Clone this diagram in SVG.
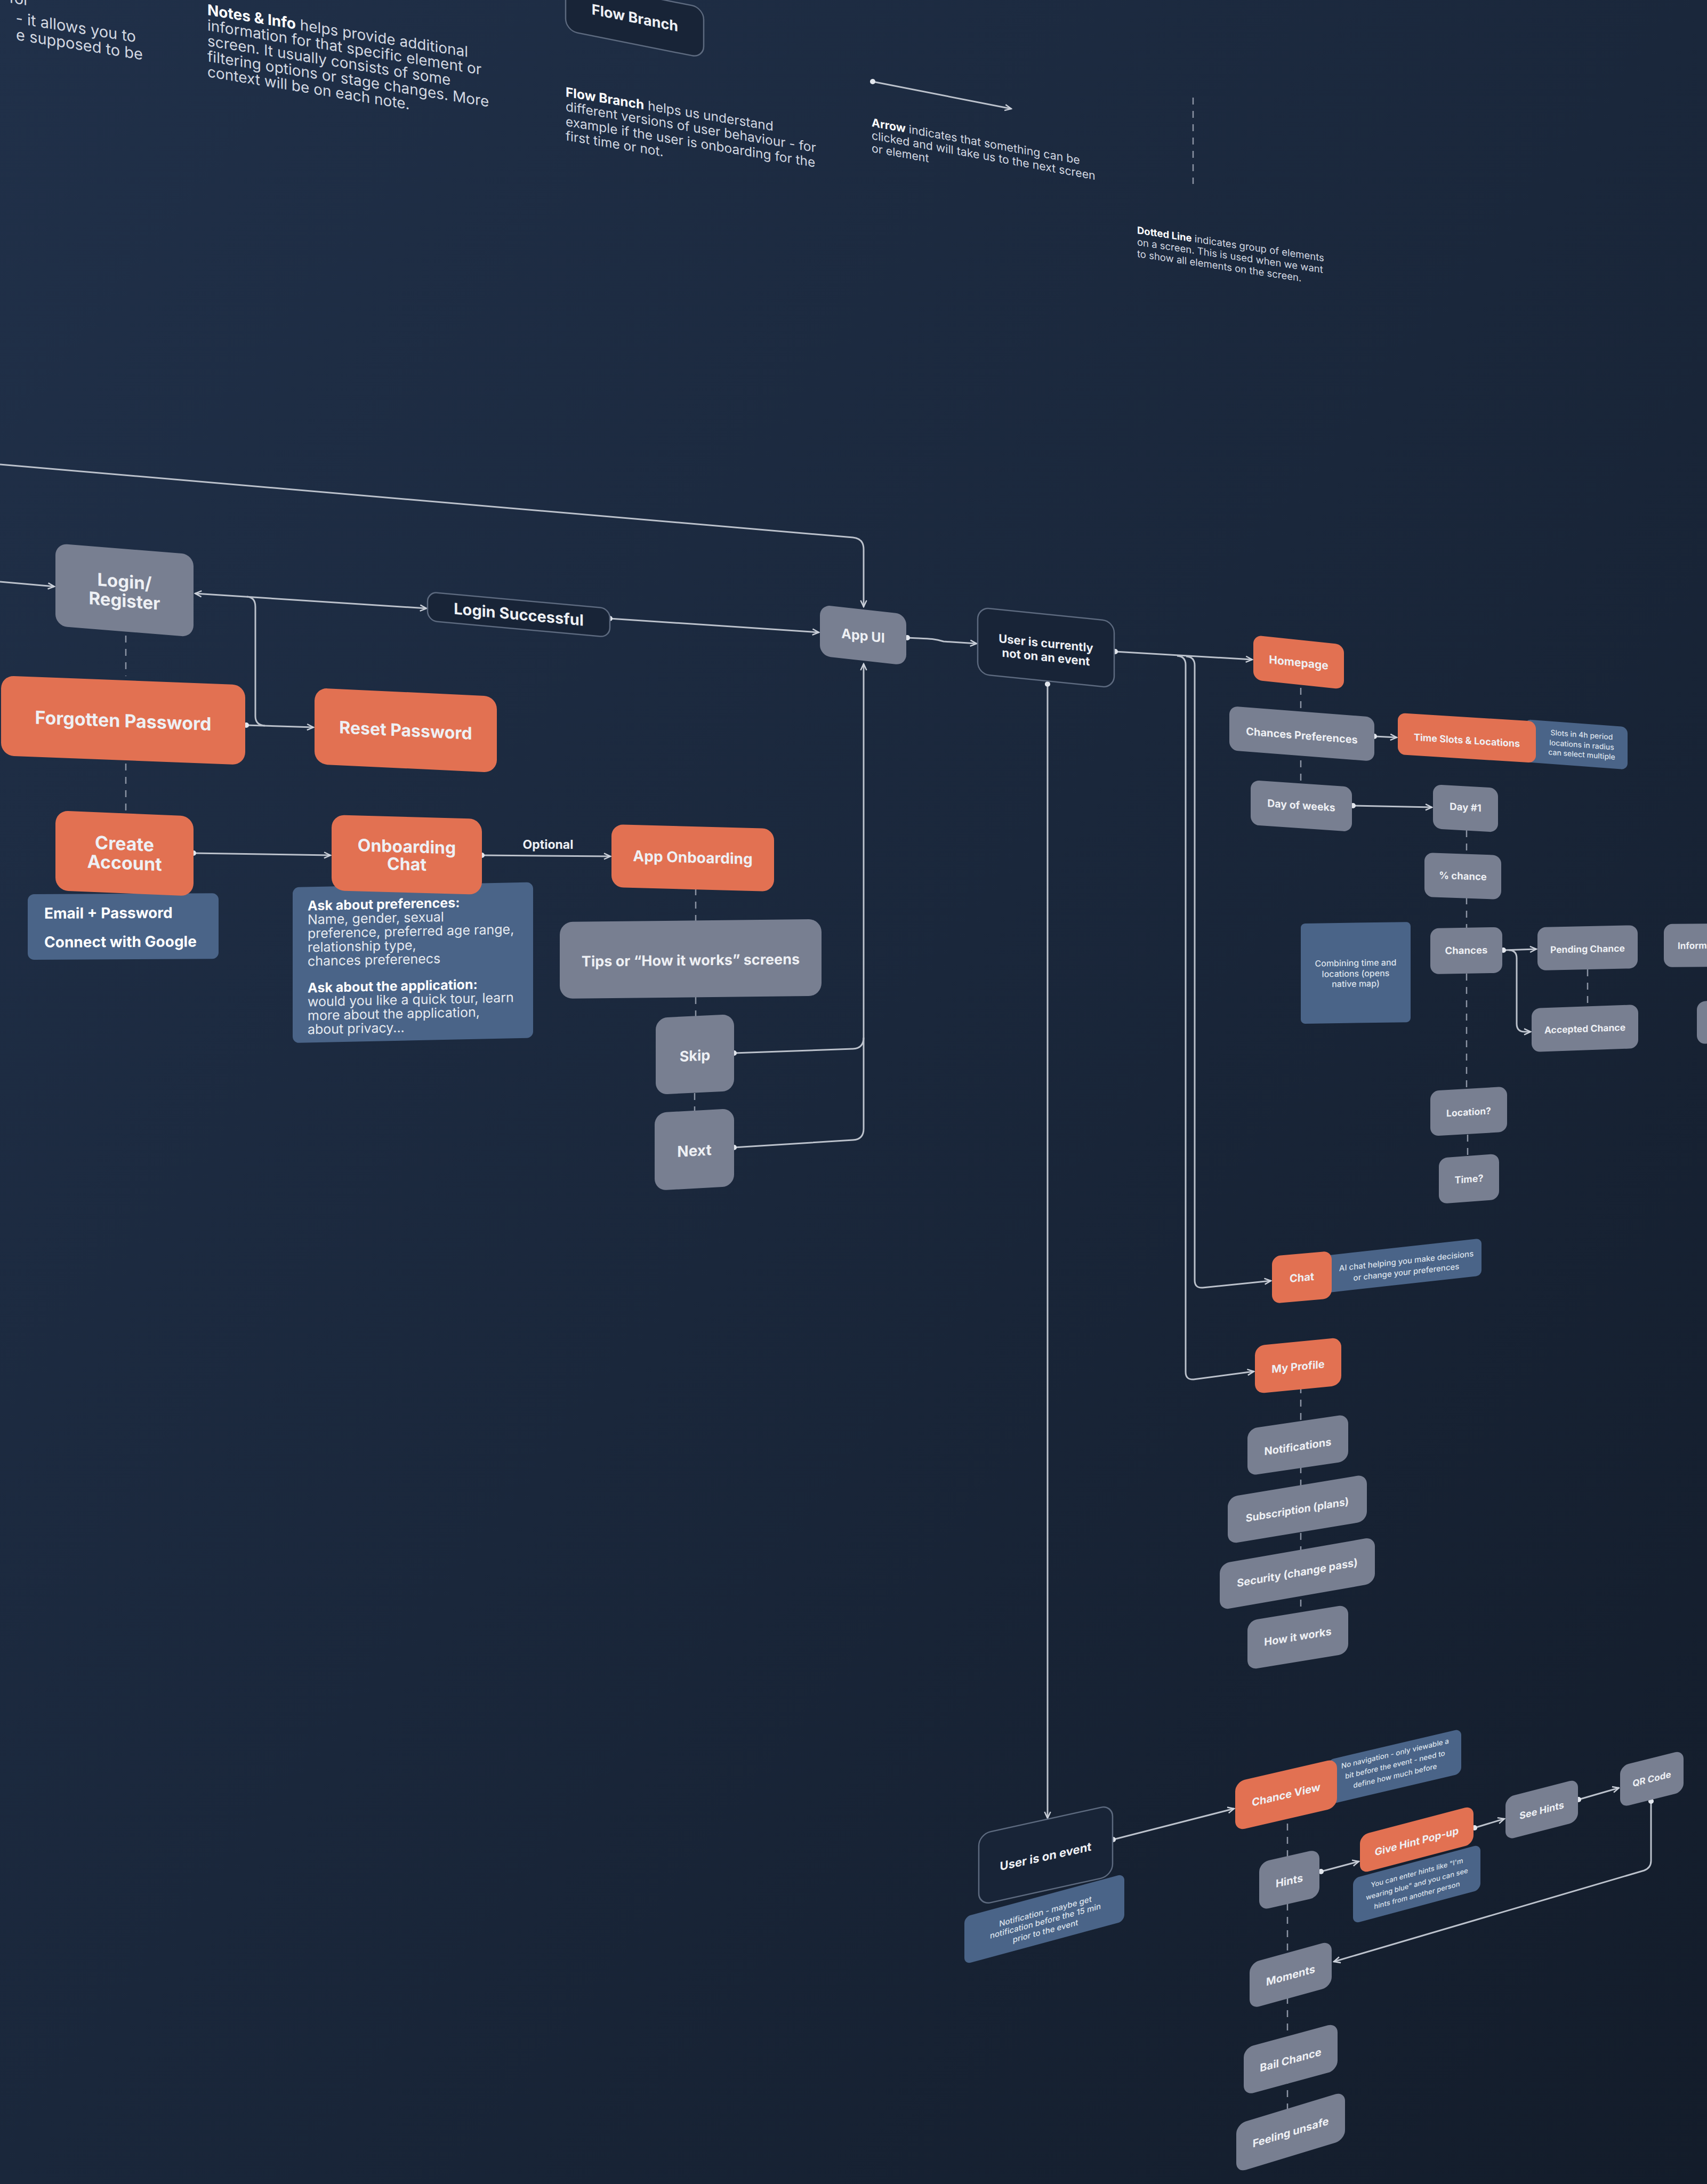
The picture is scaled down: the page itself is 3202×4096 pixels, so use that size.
<svg xmlns="http://www.w3.org/2000/svg" width="3202" height="4096" viewBox="0 0 3202 4096">
<defs>
<linearGradient id="bgG" x1="0" y1="0" x2="1" y2="1">
<stop offset="0" stop-color="#203049"/>
<stop offset="0.5" stop-color="#1a273b"/>
<stop offset="1" stop-color="#131c2a"/>
</linearGradient>
<marker id="arr" viewBox="0 0 10 10" refX="9" refY="5" markerWidth="16" markerHeight="16" markerUnits="userSpaceOnUse" orient="auto-start-reverse">
<path d="M1.5,1.5 L9,5 L1.5,8.5" fill="none" stroke="#cdd2db" stroke-width="1.5"/>
</marker>
<marker id="dot" viewBox="0 0 10 10" refX="5" refY="5" markerWidth="11" markerHeight="11" markerUnits="userSpaceOnUse">
<circle cx="5" cy="5" r="4.6" fill="#e2e6ed"/>
</marker>
<style>
.conn{fill:none;stroke:#bcc2cc;stroke-width:3}
.a{marker-end:url(#arr)}
.d{marker-start:url(#dot)}
.dash{fill:none;stroke:#8c94a4;stroke-width:2.5;stroke-dasharray:13 12}
.gray{fill:#787f91}
.orange{fill:#e27152}
.note{fill:#4a6488}
.dark{fill:#182437;stroke:#5d6a7f;stroke-width:2.5}
text{font-family:Inter,"Liberation Sans",sans-serif;fill:#eef0f4}
.lbl{font-weight:700;text-anchor:middle}
.st{text-anchor:start}
.nt{font-weight:500;text-anchor:middle;fill:#dde3ec}
.leg{font-weight:400;fill:#d3d8e1}
.end{text-anchor:end}
.b{font-weight:700;fill:#ffffff}
.on{fill:#e6eaf0}
</style>
</defs>
<rect width="3202" height="4096" fill="url(#bgG)"/>

<g id="legend">
<g transform="skewY(9)">
<text class="leg end" font-size="29" x="55" y="2">for</text>
<text class="leg end" font-size="29" x="255" y="39">- it allows you to</text>
<text class="leg end" font-size="29" x="268" y="70">e supposed to be</text>
</g>
<g transform="translate(389,0) skewY(9.2)">
<text class="leg" font-size="28" x="0" y="28"><tspan class="b">Notes &amp; Info</tspan> helps provide additional</text>
<text class="leg" font-size="28" x="0" y="57">information for that specific element or</text>
<text class="leg" font-size="28" x="0" y="86">screen. It usually consists of some</text>
<text class="leg" font-size="28" x="0" y="115">filtering options or stage changes. More</text>
<text class="leg" font-size="28" x="0" y="144">context will be on each note.</text>
</g>
<g id="legend-flow-branch" transform="translate(1061,-37) skewY(11.3)">
<rect class="dark" width="259" height="94" rx="22" fill="none"/>
<text class="lbl" font-size="27" x="130" y="54">Flow Branch</text>
</g>
<g transform="translate(1061,0) skewY(9.4)">
<text class="leg" font-size="24.5" x="0" y="181"><tspan class="b">Flow Branch</tspan> helps us understand</text>
<text class="leg" font-size="24.5" x="0" y="208">different versions of user behaviour - for</text>
<text class="leg" font-size="24.5" x="0" y="236">example if the user is onboarding for the</text>
<text class="leg" font-size="24.5" x="0" y="263">first time or not.</text>
</g>
<path class="conn d a" d="M1637,153 L1897,204"/>
<g transform="translate(1635,0) skewY(10.3)">
<text class="leg" font-size="21.3" x="0" y="237"><tspan class="b">Arrow</tspan> indicates that something can be</text>
<text class="leg" font-size="21.3" x="0" y="261">clicked and will take us to the next screen</text>
<text class="leg" font-size="21.3" x="0" y="285">or element</text>
</g>
<path class="dash" d="M2238,183 L2238,345"/>
<g transform="translate(2133,0) skewY(8.5)">
<text class="leg" font-size="18.5" x="0" y="438"><tspan class="b">Dotted Line</tspan> indicates group of elements</text>
<text class="leg" font-size="18.5" x="0" y="460">on a screen. This is used when we want</text>
<text class="leg" font-size="18.5" x="0" y="482">to show all elements on the screen.</text>
</g>
</g>

<g id="connectors">
<path class="conn a" d="M0,871 L1600,1008 Q1620,1010 1620,1030 L1620,1138"/>
<path class="conn a" d="M0,1091 L102,1100"/>
<path class="conn a" style="marker-start:url(#arr)" d="M366,1113 L800,1141"/>
<path class="conn" d="M463,1119 Q479,1120 479,1138 L479,1343 Q479,1360 497,1361"/>
<path class="conn d a" d="M462,1360 L588,1364"/>
<path class="dash" d="M236,1192 L236,1268"/>
<path class="dash" d="M236,1432 L236,1521"/>
<path class="conn d a" d="M363,1600 L620,1604"/>
<path class="conn d a" d="M904,1604 L1145,1606"/>
<text class="lbl" font-size="23" x="1028" y="1592">Optional</text>
<path class="dash" d="M1305,1666 L1305,1729"/>
<path class="dash" d="M1305,1870 L1305,1910"/>
<path class="dash" d="M1303,2050 L1303,2088"/>
<path class="conn d" d="M1377,1975 L1600,1967 Q1620,1966 1620,1946"/>
<path class="conn d a" d="M1377,2152 L1600,2138 Q1620,2137 1620,2117 L1620,1245"/>
<path class="conn d a" d="M1144,1160 L1536,1186"/>
<path class="conn d a" d="M1702,1196 C1740,1198 1750,1197 1770,1203 L1832,1207"/>
<path class="conn d a" d="M2092,1222 L2349,1237"/>
<path class="conn a" d="M2225,1231 Q2241,1232 2241,1248 L2241,2401 Q2241,2416 2256,2415 L2384,2402"/>
<path class="conn a" d="M2208,1230 Q2224,1231 2224,1247 L2224,2573 Q2224,2588 2239,2587 L2352,2572"/>
<path class="conn d a" d="M1965,1283 L1965,3410"/>
<path class="dash" d="M2440,1290 L2440,1330"/>
<path class="dash" d="M2440,1426 L2440,1465"/>
<path class="conn d a" d="M2578,1381 L2620,1383"/>
<path class="conn d a" d="M2538,1511 L2686,1514"/>
<path class="dash" d="M2751,1557 L2751,1602"/>
<path class="dash" d="M2751,1683 L2751,1742"/>
<path class="dash" d="M2751,1826 L2751,2045"/>
<path class="dash" d="M2753,2128 L2753,2170"/>
<path class="dash" d="M2978,1818 L2978,1890"/>
<path class="conn d a" d="M2820,1782 L2882,1780"/>
<path class="conn a" d="M2830,1782 Q2845,1782 2845,1797 L2845,1920 Q2845,1935 2860,1935 L2871,1935"/>
<path class="dash" d="M2440,2600 L2440,3045"/>
<path class="conn d a" d="M2088,3450 L2315,3392"/>
<path class="dash" d="M2415,3420 L2415,3990"/>
<path class="conn d a" d="M2478,3510 L2549,3491"/>
<path class="conn d a" d="M2766,3428 L2822,3411"/>
<path class="conn d a" d="M2961,3375 L3037,3353"/>
<path class="conn d a" d="M3097,3378 L3097,3490 Q3097,3503 3084,3508 L2502,3679"/>
</g>

<g id="login-register" transform="translate(104,1019) skewY(4.6)">
<rect class="gray" width="259" height="155" rx="22"/>
<text class="lbl" font-size="33" x="129.5" y="73">Login/</text>
<text class="lbl" font-size="33" x="129.5" y="109">Register</text>
</g>
<g id="forgotten-password" transform="translate(2,1267) skewY(2.2)">
<rect class="orange" width="458" height="150" rx="24"/>
<text class="lbl" font-size="34" x="229" y="88">Forgotten Password</text>
</g>
<g id="reset-password" transform="translate(590,1290) skewY(2.7)">
<rect class="orange" width="342" height="143" rx="24"/>
<text class="lbl" font-size="32" x="171" y="83">Reset Password</text>
</g>
<g id="email-note" transform="translate(52,1677) skewY(-0.3)">
<rect class="note" width="358" height="123" rx="12"/>
<text class="b" font-size="28" x="31" y="46">Email + Password</text>
<text class="b" font-size="28" x="31" y="100">Connect with Google</text>
</g>
<g id="create-account" transform="translate(104,1520) skewY(2.4)">
<rect class="orange" width="259" height="150" rx="24"/>
<text class="lbl" font-size="34" x="129.5" y="69">Create</text>
<text class="lbl" font-size="34" x="129.5" y="105">Account</text>
</g>
<g id="onboarding-note" transform="translate(549,1664) skewY(-1.2)">
<rect class="note" width="451" height="292" rx="12"/>
<text class="leg on" font-size="25" x="28" y="44"><tspan class="b">Ask about preferences:</tspan></text>
<text class="leg on" font-size="25" x="28" y="70">Name, gender, sexual</text>
<text class="leg on" font-size="25" x="28" y="96">preference, preferred age range,</text>
<text class="leg on" font-size="25" x="28" y="122">relationship type,</text>
<text class="leg on" font-size="25" x="28" y="148">chances preferenecs</text>
<text class="leg on" font-size="25" x="28" y="198"><tspan class="b">Ask about the application:</tspan></text>
<text class="leg on" font-size="25" x="28" y="224">would you like a quick tour, learn</text>
<text class="leg on" font-size="25" x="28" y="250">more about the application,</text>
<text class="leg on" font-size="25" x="28" y="276">about privacy...</text>
</g>
<g id="onboarding-chat" transform="translate(622,1528) skewY(1.6)">
<rect class="orange" width="282" height="142" rx="24"/>
<text class="lbl" font-size="32" x="141" y="67">Onboarding</text>
<text class="lbl" font-size="32" x="141" y="100">Chat</text>
</g>
<g id="app-onboarding" transform="translate(1147,1546) skewY(1.5)">
<rect class="orange" width="305" height="118" rx="22"/>
<text class="lbl" font-size="28" x="152.5" y="68">App Onboarding</text>
</g>
<g id="tips" transform="translate(1050,1729) skewY(-0.6)">
<rect class="gray" width="491" height="144" rx="24"/>
<text class="lbl" font-size="27" x="245.5" y="84">Tips or “How it works” screens</text>
</g>
<g id="skip" transform="translate(1230,1909) skewY(-2.7)">
<rect class="gray" width="147" height="144" rx="22"/>
<text class="lbl" font-size="27" x="73.5" y="84">Skip</text>
</g>
<g id="next" transform="translate(1228,2087) skewY(-3.1)">
<rect class="gray" width="149" height="146" rx="22"/>
<text class="lbl" font-size="28" x="74.5" y="85">Next</text>
</g>
<g id="login-successful" transform="translate(802,1110) skewY(5.2)">
<rect class="dark" width="342" height="54" rx="18"/>
<text class="lbl" font-size="29" x="171" y="37">Login Successful</text>
</g>
<g id="app-ui" transform="translate(1538,1134) skewY(6.3)">
<rect class="gray" width="162" height="96" rx="20"/>
<text class="lbl" font-size="25" x="81" y="58">App UI</text>
</g>
<g id="user-not-on-event" transform="translate(1834,1139) skewY(5.8)">
<rect class="dark" width="256" height="125" rx="22"/>
<text class="lbl" font-size="22" font-weight="600" x="128" y="62">User is currently</text>
<text class="lbl" font-size="22" font-weight="600" x="128" y="88">not on an event</text>
</g>

<g id="homepage" transform="translate(2351,1191) skewY(6)">
<rect class="orange" width="170" height="84" rx="16"/>
<text class="lbl" font-size="21" x="85" y="50">Homepage</text>
</g>
<g id="chances-preferences" transform="translate(2306,1324) skewY(4.4)">
<rect class="gray" width="272" height="83" rx="16"/>
<text class="lbl" font-size="20" x="136" y="52">Chances Preferences</text>
</g>
<g id="timeslots-note" transform="translate(2860,1349) skewY(4.3)">
<rect class="note" width="193" height="80" rx="12"/>
<text class="nt" font-size="14" x="107" y="26">Slots in 4h period</text>
<text class="nt" font-size="14" x="107" y="45">locations in radius</text>
<text class="nt" font-size="14" x="107" y="63">can select multiple</text>
</g>
<g id="time-slots" transform="translate(2622,1337) skewY(3.5)">
<rect class="orange" width="259" height="78" rx="14"/>
<text class="lbl" font-size="18" x="129.5" y="50">Time Slots &amp; Locations</text>
</g>
<g id="day-of-weeks" transform="translate(2346,1463) skewY(3.9)">
<rect class="gray" width="190" height="84" rx="16"/>
<text class="lbl" font-size="19.5" x="95" y="48">Day of weeks</text>
</g>
<g id="day-1" transform="translate(2688,1471) skewY(3.3)">
<rect class="gray" width="122" height="83" rx="16"/>
<text class="lbl" font-size="18.5" x="61" y="46">Day #1</text>
</g>
<g id="percent-chance" transform="translate(2672,1599) skewY(2)">
<rect class="gray" width="144" height="83" rx="16"/>
<text class="lbl" font-size="18.5" x="72" y="48">% chance</text>
</g>
<g id="chances" transform="translate(2683,1741) skewY(-1)">
<rect class="gray" width="135" height="86" rx="16"/>
<text class="lbl" font-size="18.5" x="67.5" y="49">Chances</text>
</g>
<g id="combining-note" transform="translate(2440,1732) skewY(-0.8)">
<rect class="note" width="206" height="188" rx="8"/>
<text class="nt" font-size="16" x="103" y="81">Combining time and</text>
<text class="nt" font-size="16" x="103" y="101">locations (opens</text>
<text class="nt" font-size="16" x="103" y="120">native map)</text>
</g>
<g id="pending-chance" transform="translate(2884,1739) skewY(-1.2)">
<rect class="gray" width="188" height="81" rx="16"/>
<text class="lbl" font-size="17.5" x="94" y="49">Pending Chance</text>
</g>
<g id="accepted-chance" transform="translate(2873,1891) skewY(-2)">
<rect class="gray" width="200" height="82" rx="16"/>
<text class="lbl" font-size="17.5" x="100" y="48">Accepted Chance</text>
</g>
<g id="information" transform="translate(3121,1733) skewY(-0.6)">
<rect class="gray" width="200" height="81" rx="16"/>
<text class="lbl st" font-size="17" x="26" y="47">Information</text>
</g>
<g id="partial-node" transform="translate(3183,1878) skewY(-2)">
<rect class="gray" width="100" height="80" rx="16"/>
</g>
<g id="location" transform="translate(2683,2046) skewY(-3.3)">
<rect class="gray" width="144" height="85" rx="16"/>
<text class="lbl" font-size="17.5" x="72" y="50">Location?</text>
</g>
<g id="time" transform="translate(2699,2172) skewY(-4.3)">
<rect class="gray" width="113" height="86" rx="16"/>
<text class="lbl" font-size="18" x="56.5" y="50">Time?</text>
</g>
<g id="chat-note" transform="translate(2475,2356) skewY(-6.3)">
<rect class="note" width="304" height="70" rx="10"/>
<text class="nt" font-size="15" x="163" y="32">AI chat helping you make decisions</text>
<text class="nt" font-size="15" x="163" y="53">or change your preferences</text>
</g>
<g id="chat" transform="translate(2386,2356) skewY(-5.1)">
<rect class="orange" width="112" height="89" rx="16"/>
<text class="lbl" font-size="20" x="56" y="52">Chat</text>
</g>
<g id="my-profile" transform="translate(2354,2524) skewY(-5.6)">
<rect class="orange" width="162" height="90" rx="18"/>
<text class="lbl" font-size="20" x="81" y="54">My Profile</text>
</g>
<g id="notifications" transform="translate(2340,2680) skewY(-8.4)">
<rect class="gray" width="189" height="88" rx="18"/>
<text class="lbl" font-size="20" x="94.5" y="54">Notifications</text>
</g>
<g id="subscription" transform="translate(2303,2808) skewY(-9.4)">
<rect class="gray" width="261" height="88" rx="18"/>
<text class="lbl" font-size="19.5" x="130.5" y="52">Subscription (plans)</text>
</g>
<g id="security" transform="translate(2288,2933) skewY(-9.9)">
<rect class="gray" width="291" height="87" rx="18"/>
<text class="lbl" font-size="20" x="145.5" y="49">Security (change pass)</text>
</g>
<g id="how-it-works" transform="translate(2340,3040) skewY(-9.3)">
<rect class="gray" width="189" height="92" rx="18"/>
<text class="lbl" font-size="20" x="94.5" y="52">How it works</text>
</g>

<g id="user-on-event" transform="translate(1836,3440) skewY(-12.4)">
<rect class="dark" width="251" height="133" rx="22"/>
<text class="lbl" font-size="22" font-weight="600" x="125.5" y="77">User is on event</text>
</g>
<g id="user-on-event-note" transform="translate(1809,3595) skewY(-15.1)">
<rect class="note" width="300" height="89" rx="12"/>
<text class="nt" font-size="15" x="152" y="36">Notification - maybe get</text>
<text class="nt" font-size="15" x="152" y="54">notification before the 15 min</text>
<text class="nt" font-size="15" x="152" y="73">prior to the event</text>
</g>
<g id="chance-view-note" transform="translate(2490,3301) skewY(-13.2)">
<rect class="note" width="251" height="84" rx="12"/>
<text class="nt" font-size="13.5" x="127" y="22">No navigation - only viewable a</text>
<text class="nt" font-size="13.5" x="127" y="43">bit before the event - need to</text>
<text class="nt" font-size="13.5" x="127" y="64">define how much before</text>
</g>
<g id="chance-view" transform="translate(2317,3342) skewY(-13)">
<rect class="orange" width="191" height="92" rx="18"/>
<text class="lbl" font-size="20" x="95.5" y="53">Chance View</text>
</g>
<g id="hints" transform="translate(2362,3493) skewY(-12.7)">
<rect class="gray" width="113" height="90" rx="18"/>
<text class="lbl" font-size="20" x="56.5" y="54">Hints</text>
</g>
<g id="give-hint-note" transform="translate(2538,3523) skewY(-15)">
<rect class="note" width="239" height="85" rx="12"/>
<text class="nt" font-size="13" x="120" y="26">You can enter hints like "I'm</text>
<text class="nt" font-size="13" x="120" y="47">wearing blue" and you can see</text>
<text class="nt" font-size="13" x="120" y="68">hints from another person</text>
</g>
<g id="give-hint-popup" transform="translate(2551,3442) skewY(-14.7)">
<rect class="orange" width="213" height="72" rx="16"/>
<text class="lbl" font-size="19" x="106.5" y="46">Give Hint Pop-up</text>
</g>
<g id="see-hints" transform="translate(2824,3371) skewY(-14.4)">
<rect class="gray" width="136" height="80" rx="16"/>
<text class="lbl" font-size="18" x="68" y="48">See Hints</text>
</g>
<g id="qr-code" transform="translate(3039,3312) skewY(-14)">
<rect class="gray" width="119" height="78" rx="16"/>
<text class="lbl" font-size="17" x="59.5" y="45">QR Code</text>
</g>
<g id="moments" transform="translate(2344,3682) skewY(-15.4)">
<rect class="gray" width="154" height="86" rx="18"/>
<text class="lbl" font-size="20" x="77" y="51">Moments</text>
</g>
<g id="bail-chance" transform="translate(2333,3841) skewY(-15.1)">
<rect class="gray" width="176" height="89" rx="18"/>
<text class="lbl" font-size="20" x="88" y="53">Bail Chance</text>
</g>
<g id="feeling-unsafe" transform="translate(2319,3984) skewY(-16.9)">
<rect class="gray" width="204" height="91" rx="18"/>
<text class="lbl" font-size="20" x="102" y="53">Feeling unsafe</text>
</g>
</svg>
